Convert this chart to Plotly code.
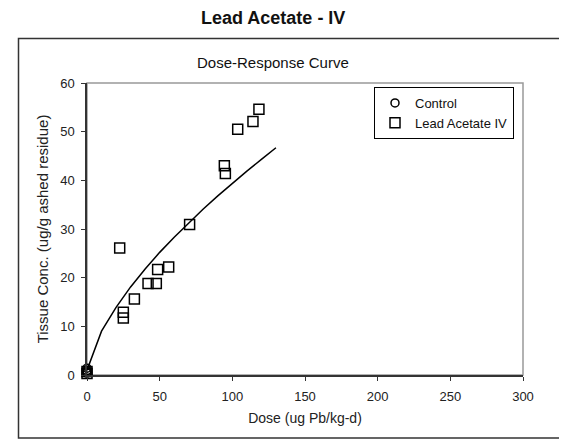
import plotly.graph_objects as go

# Data
control_dose = [0, 0, 0, 0]
control_conc = [1.4, 0.9, 0.4, 0.6]

lead_dose = [0, 0, 22.5, 25, 25, 32.6, 42, 47.7, 48.6, 56.2, 70.6, 94.5, 95.2, 103.7, 114.2, 118.3]
lead_conc = [0.7, 0.3, 26.1, 12.9, 11.7, 15.6, 18.8, 18.8, 21.7, 22.2, 30.9, 43.0, 41.4, 50.5, 52.1, 54.6]

fit_dose = [0, 10, 20, 30, 40, 50, 60, 70, 80, 90, 100, 110, 120, 130]
fit_conc = [1.0, 9.0, 13.9, 18.1, 21.8, 25.2, 28.3, 31.3, 34.1, 36.8, 39.4, 41.9, 44.3, 46.7]

x_ticks = [0, 50, 100, 150, 200, 250, 300]
y_ticks = [0, 10, 20, 30, 40, 50, 60]

FONT = "Arial, Liberation Sans, sans-serif"

fig = go.Figure()
fig.add_trace(go.Scatter(
    x=fit_dose, y=fit_conc, mode="lines",
    line=dict(color="black", width=1.5), showlegend=False, cliponaxis=False))
fig.add_trace(go.Scatter(
    x=control_dose, y=control_conc, mode="markers", name="Control",
    marker=dict(symbol="circle-open", size=8, color="black", line=dict(width=1.5)),
    cliponaxis=False))
fig.add_trace(go.Scatter(
    x=lead_dose, y=lead_conc, mode="markers", name="Lead Acetate IV",
    marker=dict(symbol="square-open", size=10, color="black", line=dict(width=1.5)),
    cliponaxis=False))

# page body has an 8px margin; figure is sized/offset accordingly
OFF = 8
W, H = 567 - OFF, 440 - OFF
L, T = 87 - OFF, 83 - OFF
R = (567 - OFF) - (523 - OFF)
B = (440 - OFF) - (375 - OFF)
pw, ph = W - L - R, H - T - B

def px(x):
    return (x - OFF - L) / pw

def py(y):
    return (H - B - (y - OFF)) / ph

fig.update_layout(
    width=W, height=H,
    margin=dict(l=L, r=R, t=T, b=B, pad=0),
    paper_bgcolor="white", plot_bgcolor="white",
    font=dict(family=FONT, size=13, color="#222"),
    xaxis=dict(range=[0, 300], tickvals=x_ticks, showgrid=False, zeroline=False,
               showline=True, linecolor="#333", linewidth=1.5,
               ticks="outside", ticklen=4, tickcolor="#333",
               tickfont=dict(size=13), ticklabelstandoff=5,
               title=dict(text="Dose (ug Pb/kg-d)", font=dict(size=14), standoff=10)),
    yaxis=dict(range=[0, 60], tickvals=y_ticks, showgrid=False, zeroline=False,
               showline=True, linecolor="#333", linewidth=1.5,
               ticks="outside", ticklen=4, tickcolor="#333",
               tickfont=dict(size=13), ticklabelstandoff=4,
               title=dict(text="Tissue Conc. (ug/g ashed residue)", font=dict(size=15), standoff=8)),
    legend=dict(x=px(514), y=py(87), xanchor="right", yanchor="top",
                bgcolor="white", bordercolor="black", borderwidth=1,
                font=dict(size=13, color="#111"), tracegroupgap=0,
                itemwidth=30),
    shapes=[
        dict(type="rect", xref="paper", yref="paper", x0=0, x1=1, y0=0, y1=1,
             line=dict(color="#999", width=1.5), layer="below"),
        dict(type="rect", xref="paper", yref="paper", x0=px(18.5), x1=px(575),
             y0=py(438), y1=py(38.5), line=dict(color="#333", width=1.5), layer="below"),
    ],
    annotations=[
        dict(text="<b>Lead Acetate - IV</b>", xref="paper", yref="paper",
             x=px(273), y=py(18), xanchor="center", yanchor="middle",
             showarrow=False, font=dict(size=18, color="#111")),
        dict(text="Dose-Response Curve", xref="paper", yref="paper",
             x=px(273), y=py(62), xanchor="center", yanchor="middle",
             showarrow=False, font=dict(size=15, color="#111")),
    ],
)

fig.write_html("out.html")
